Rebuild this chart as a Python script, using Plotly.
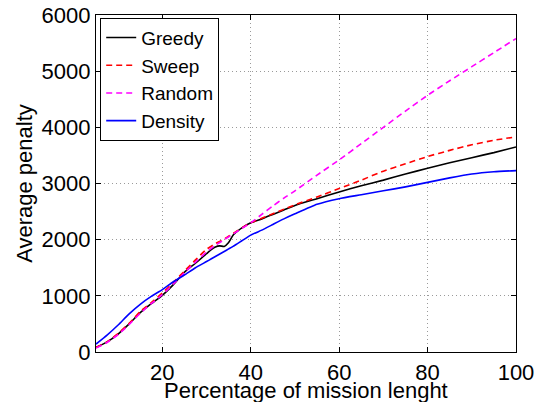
import plotly.graph_objects as go

x_pct = [5, 7.5, 10, 12.5, 15, 17.5, 20, 22.5, 25, 27.5, 30, 31, 32, 33, 34, 35, 36, 37, 38, 40,
         42.5, 45, 47.5, 50, 55, 60, 65, 70, 75, 80, 85, 90, 95, 100]

greedy = [80, 180, 320, 500, 700, 860, 1010, 1200, 1420, 1580, 1750, 1820, 1870, 1890, 1880, 1950, 2080, 2150, 2210, 2300,
          2370, 2450, 2530, 2610, 2730, 2850, 2960, 3060, 3170, 3270, 3370, 3460, 3550, 3650]

sweep = [80, 180, 330, 510, 720, 880, 1050, 1240, 1440, 1640, 1830, 1880, 1930, 1970, 2010, 2060, 2110, 2160, 2210, 2300,
         2380, 2460, 2540, 2620, 2760, 2910, 3060, 3220, 3350, 3480, 3590, 3690, 3770, 3830]

random_ = [70, 170, 310, 490, 690, 860, 1020, 1210, 1410, 1600, 1780, 1840, 1900, 1950, 2000, 2050, 2100, 2150, 2200, 2300,
           2450, 2600, 2740, 2870, 3150, 3420, 3710, 4000, 4290, 4570, 4830, 5080, 5330, 5580]

density = [140, 300, 480, 680, 850, 990, 1110, 1250, 1370, 1500, 1610, 1655, 1700, 1745, 1790, 1835, 1880, 1930, 1980, 2080,
           2170, 2270, 2370, 2460, 2630, 2730, 2800, 2870, 2940, 3020, 3100, 3170, 3210, 3230]

series = [
    ("Greedy", greedy, "black", "solid"),
    ("Sweep", sweep, "red", "6px,4px"),
    ("Random", random_, "magenta", "6px,4px"),
    ("Density", density, "blue", "solid"),
]

x_ticks = [20, 40, 60, 80, 100]
y_ticks = [0, 1000, 2000, 3000, 4000, 5000, 6000]
x_title = "Percentage of mission lenght"
y_title = "Average penalty"

FONT = "Liberation Sans, Arial, sans-serif"
FS = 22

fig = go.Figure()
for name, vals, color, dash in series:
    fig.add_trace(go.Scatter(
        x=x_pct, y=vals, mode="lines", name=name,
        line=dict(color=color, width=1.6, dash=dash, shape="spline", smoothing=0.5),
    ))

axis_common = dict(
    showline=True, linecolor="black", linewidth=1.2, mirror="ticks",
    ticks="inside", ticklen=5, tickcolor="black", tickwidth=1,
    showgrid=True, gridcolor="#9a9a9a", griddash="1px,3px", gridwidth=1,
    zeroline=False, ticklabeloverflow="allow",
    tickfont=dict(family=FONT, size=FS, color="black"),
)

fig.update_xaxes(range=[5, 100], tickvals=x_ticks, ticktext=[str(v) for v in x_ticks], **axis_common)
fig.update_yaxes(
    range=[0, 6000], tickvals=y_ticks, ticktext=[str(v) for v in y_ticks],
    title=dict(text=y_title, font=dict(family=FONT, size=FS, color="black"), standoff=2),
    **axis_common,
)

# x-axis title as an annotation so it can sit partly past the bottom edge, as in the original
fig.add_annotation(
    text=x_title, xref="paper", yref="paper", x=0.5, y=0,
    xanchor="center", yanchor="middle", yshift=-38, showarrow=False,
    font=dict(family=FONT, size=FS, color="black"),
)

fig.update_layout(
    width=543, height=402,
    margin=dict(l=96, r=27, t=15, b=50, autoexpand=False),
    paper_bgcolor="white", plot_bgcolor="white",
    font=dict(family=FONT, size=FS, color="black"),
    showlegend=True,
    legend=dict(
        x=0.01, y=0.992, xanchor="left", yanchor="top",
        bgcolor="white", bordercolor="black", borderwidth=1,
        font=dict(family=FONT, size=19, color="black"),
        itemwidth=30, tracegroupgap=0,
    ),
)

# remove the browser's default 8px body margin so the figure fills the window exactly
fig.write_html("out.html", config={"displayModeBar": False},
               post_script="document.body.style.margin='0';")
